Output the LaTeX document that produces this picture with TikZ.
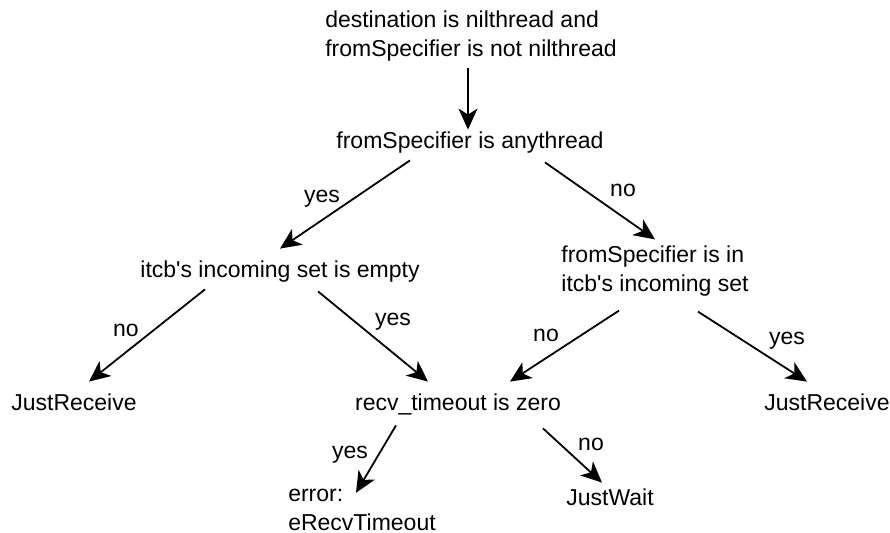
\documentclass[tikz,border=0pt]{standalone}
\usepackage{fontspec}
\setmainfont{Liberation Sans}
\usetikzlibrary{arrows.meta}
\begin{document}
\begin{tikzpicture}[
            x=0.5pt, y=-0.5pt,
            every node/.style={font=\fontsize{11.5}{14.5}\selectfont, inner sep=3pt},
            test/.style={text height=8.5pt, text depth=2.5pt},
            multi/.style={align=left},
            lbl/.style={inner sep=0pt},
            flow/.style={draw, line width=0.9pt, -{Stealth[length=10.5pt,width=9.5pt,inset=3pt]}}]
        \useasboundingbox (0,0) rectangle (890,533);
        \node [multi] (start) at (471,36) {destination is nilthread and\\fromSpecifier is not nilthread};
        \node [test] (anythread) at (470,143) {fromSpecifier is anythread};
        \node [test] (emptyset) at (280,272) {itcb\textquotesingle s incoming set is empty};
        \node [multi] (inset) at (655,271) {fromSpecifier is in\\itcb\textquotesingle s incoming set};
        \node [test] (recvleft) at (74,405) {JustReceive};
        \node [test] (zerotime) at (458,405) {recv\_timeout is zero};
        \node [test] (recvright) at (827,405) {JustReceive};
        \node [multi] (timeout) at (362,510) {error:\\eRecvTimeout};
        \node [test] (justwait) at (610,500) {JustWait};
        \draw [flow] ([xshift=-1.5pt]start.south) -- ([xshift=-1pt, yshift=-2pt]anythread.north);
        \draw [flow] ([xshift=-30pt]anythread.south) -- ([yshift=3pt]emptyset.north);
        \draw [flow] ([xshift=37.5pt, yshift=-1pt]anythread.south) -- (inset.north);
        \draw [flow] ([xshift=-37.5pt]emptyset.south) -- ([xshift=7.5pt, yshift=3pt]recvleft.north);
        \draw [flow] ([xshift=19pt, yshift=-1pt]emptyset.south) -- ([xshift=-15pt, yshift=3pt]zerotime.north);
        \draw [flow] ([xshift=-18pt, yshift=-4pt]inset.south) -- ([xshift=26pt, yshift=3pt]zerotime.north);
        \draw [flow] ([xshift=21.5pt, yshift=-4.5pt]inset.south) -- ([xshift=-10pt, yshift=3pt]recvright.north);
        \draw [flow] ([xshift=-31pt, yshift=-1.5pt]zerotime.south) -- ([xshift=-3pt, yshift=-5pt]timeout.north);
        \draw [flow] ([xshift=42.5pt, yshift=-3pt]zerotime.south) -- ([xshift=-4pt]justwait.north);
        \node [lbl] (yes1) at (322,199) {yes};
        \node [lbl] (no1) at (623,190) {no};
        \node [lbl] (no2) at (126,330) {no};
        \node [lbl] (yes2) at (393,322) {yes};
        \node [lbl] (no3) at (546,335) {no};
        \node [lbl] (yes3) at (787,341) {yes};
        \node [lbl] (yes4) at (350,455) {yes};
        \node [lbl] (no4) at (591,444) {no};
    \end{tikzpicture}
\end{document}
